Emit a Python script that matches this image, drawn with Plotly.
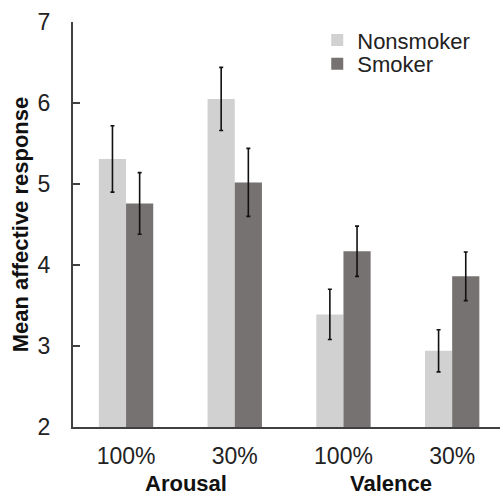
import plotly.graph_objects as go

conditions = ["100%", "30%", "100%", "30%"]
groups = ["Arousal", "Valence"]
nonsmoker = [5.31, 6.05, 3.39, 2.94]
nonsmoker_err = [0.41, 0.39, 0.31, 0.26]
smoker = [4.76, 5.02, 4.17, 3.86]
smoker_err = [0.38, 0.42, 0.31, 0.30]

xpos = list(range(len(conditions)))
FONT = "Arial, Liberation Sans, sans-serif"

fig = go.Figure()
fig.add_trace(go.Bar(
    x=xpos, y=nonsmoker, name="Nonsmoker", legend="legend",
    marker=dict(color="#d2d1d2", line=dict(width=0)),
    error_y=dict(type="data", array=nonsmoker_err, color="#111111", thickness=1.6, width=2),
))
fig.add_trace(go.Bar(
    x=xpos, y=smoker, name="Smoker", legend="legend2",
    marker=dict(color="#767271", line=dict(width=0)),
    error_y=dict(type="data", array=smoker_err, color="#111111", thickness=1.6, width=2),
))

leg_common = dict(xanchor="left", yanchor="top", font=dict(size=22, color="#222222"),
                  bgcolor="rgba(0,0,0,0)", itemwidth=30)

fig.update_layout(
    width=500, height=496,
    margin=dict(l=73, r=0, t=22, b=69),
    paper_bgcolor="white", plot_bgcolor="white",
    barmode="group", bargap=0.5, bargroupgap=0,
    font=dict(family=FONT, size=22, color="#222222"),
    showlegend=True,
    legend=dict(x=0.572, y=1.007, **leg_common),
    legend2=dict(x=0.572, y=0.948, **leg_common),
    xaxis=dict(
        tickmode="array", tickvals=xpos, ticktext=conditions,
        range=[-0.488, 3.44], showline=True, linecolor="#404040", linewidth=2,
        ticks="", showgrid=False, zeroline=False,
        tickfont=dict(size=23, color="#222222"), ticklabelstandoff=7,
    ),
    yaxis=dict(
        range=[2, 7], tickvals=[2, 3, 4, 5, 6, 7], showline=True,
        linecolor="#404040", linewidth=2, ticks="inside", ticklen=7,
        tickcolor="#404040", tickwidth=2, showgrid=False, zeroline=False,
        tickfont=dict(size=23, color="#222222"), ticklabelstandoff=16,
        title=dict(text="<b>Mean affective response</b>", font=dict(size=22, color="#111111"),
                   standoff=3),
    ),
)

for gx, g in zip([0.55, 2.44], groups):
    fig.add_annotation(x=gx, y=0, xref="x", yref="paper", yanchor="top", yshift=-42,
                       text=f"<b>{g}</b>", showarrow=False,
                       font=dict(size=22, color="#111111", family=FONT))

fig.write_html("out.html")
